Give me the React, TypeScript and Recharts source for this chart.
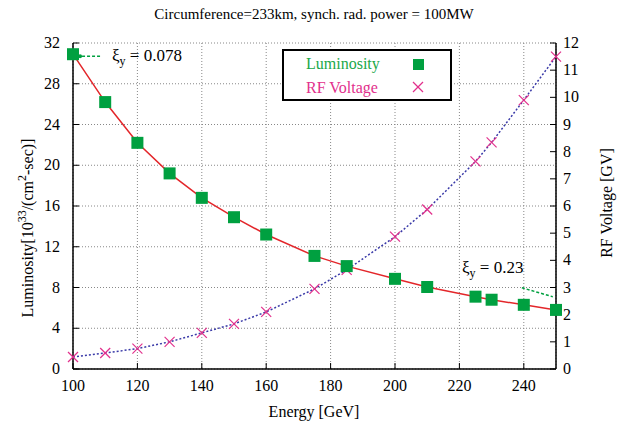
import {
  ComposedChart,
  Line,
  XAxis,
  YAxis,
  CartesianGrid,
  ReferenceLine,
  ReferenceDot,
  Legend,
} from 'recharts'

const energy = [100, 110, 120, 130, 140, 150, 160, 175, 185, 200, 210, 225, 230, 240, 250]
const luminosity = [30.9, 26.2, 22.2, 19.2, 16.8, 14.9, 13.2, 11.1, 10.1, 8.85, 8.05, 7.1, 6.8, 6.3, 5.8]
const rfVoltage = [0.44, 0.59, 0.75, 1.0, 1.33, 1.66, 2.1, 2.95, 3.65, 4.87, 5.87, 7.64, 8.34, 9.9, 11.5]

const energyTicks = [100, 120, 140, 160, 180, 200, 220, 240]
const lumTicks = [0, 4, 8, 12, 16, 20, 24, 28, 32]
const rfTicks = [0, 1, 2, 3, 4, 5, 6, 7, 8, 9, 10, 11, 12]

const data = energy.map((e, i) => ({ energy: e, lum: luminosity[i], rf: rfVoltage[i] }))

const GREEN = '#00a040'
const RED = '#e3262a'
const PINK = '#e2308c'
const BLUE = '#3a3aa8'
const FONT = '"Liberation Serif", serif'

// the page keeps its 8px body margin, so the chart is 620x416
const W = 620
const H = 416

function Tick(props: any) {
  const { x, y, payload, textAnchor, dy } = props
  return (
    <text x={x} y={y} dy={dy} textAnchor={textAnchor} fontSize={16} fontFamily={FONT} fill="#000">
      {payload.value}
    </text>
  )
}

function Square(props: any) {
  const { cx, cy } = props
  if (cx == null || cy == null) return null
  return <rect x={cx - 6} y={cy - 6} width={12} height={12} fill={GREEN} />
}

function Cross(props: any) {
  const { cx, cy } = props
  if (cx == null || cy == null) return null
  return (
    <g stroke={PINK} strokeWidth={1.2}>
      <line x1={cx - 5} y1={cy - 5} x2={cx + 5} y2={cy + 5} />
      <line x1={cx - 5} y1={cy + 5} x2={cx + 5} y2={cy - 5} />
    </g>
  )
}

function XiLabel({ value, viewBox }: any) {
  if (!viewBox) return null
  return (
    <text x={viewBox.x} y={viewBox.y} fontSize={17} fontFamily={FONT} fill="#000">
      <tspan>ξ</tspan>
      <tspan dy={4} fontSize={12}>y</tspan>
      <tspan dy={-4}>{` = ${value}`}</tspan>
    </text>
  )
}

function LegendBox() {
  return (
    <div
      style={{
        width: 166,
        height: 48,
        border: '2px solid #000',
        background: '#fff',
        fontFamily: FONT,
        fontSize: 16,
        position: 'relative',
      }}
    >
      <div style={{ position: 'absolute', left: 22, top: 4, color: '#20a848' }}>Luminosity</div>
      <div style={{ position: 'absolute', left: 129, top: 8, width: 11, height: 11, background: GREEN }} />
      <div style={{ position: 'absolute', left: 22, top: 28, color: PINK }}>RF Voltage</div>
      <svg style={{ position: 'absolute', left: 128, top: 30 }} width={12} height={12}>
        <line x1={1} y1={1} x2={11} y2={11} stroke={PINK} strokeWidth={1.2} />
        <line x1={1} y1={11} x2={11} y2={1} stroke={PINK} strokeWidth={1.2} />
      </svg>
    </div>
  )
}

export default function App() {
  return (
    <div style={{ position: 'relative', width: W, height: H, background: '#fff', fontFamily: FONT }}>
      <div
        style={{
          position: 'absolute',
          top: -2,
          left: -8,
          width: 628,
          textAlign: 'center',
          fontFamily: FONT,
          fontSize: 15,
        }}
      >
        Circumference=233km, synch. rad. power = 100MW
      </div>
      <ComposedChart width={W} height={H} data={data} margin={{ top: 35, right: 0, bottom: 0, left: 0 }}>
        <CartesianGrid yAxisId="lum" stroke="#888" strokeDasharray="1 2" />
        <XAxis
          dataKey="energy"
          type="number"
          domain={[100, 250]}
          ticks={energyTicks}
          height={55}
          axisLine={{ stroke: '#000', strokeWidth: 1.5 }}
          tickLine={{ stroke: '#000' }}
          tickSize={-6}
          tickMargin={16}
          tick={<Tick dy={12} />}
          label={() => (
            <text x={306} y={409} textAnchor="middle" fontSize={16} fontFamily={FONT}>
              Energy [GeV]
            </text>
          )}
        />
        <XAxis
          xAxisId="top"
          orientation="top"
          dataKey="energy"
          type="number"
          domain={[100, 250]}
          ticks={energyTicks}
          height={0}
          axisLine={{ stroke: '#000', strokeWidth: 1.5 }}
          tickLine={{ stroke: '#000' }}
          tickSize={-6}
          tickFormatter={() => ''}
        />
        <YAxis
          yAxisId="lum"
          domain={[0, 32]}
          ticks={lumTicks}
          width={65}
          axisLine={{ stroke: '#000', strokeWidth: 1.5 }}
          tickLine={{ stroke: '#000' }}
          tickSize={-6}
          tickMargin={19}
          tick={<Tick dy={5} />}
          label={() => (
            <text
              transform="rotate(-90, 25, 220)"
              x={25}
              y={220}
              textAnchor="middle"
              fontSize={16}
              fontFamily={FONT}
            >
              <tspan>Luminosity[10</tspan>
              <tspan dy={-7} fontSize={12}>33</tspan>
              <tspan dy={7}>/(cm</tspan>
              <tspan dy={-7} fontSize={12}>2</tspan>
              <tspan dy={7}>-sec)]</tspan>
            </text>
          )}
        />
        <YAxis
          yAxisId="rf"
          orientation="right"
          domain={[0, 12]}
          ticks={rfTicks}
          width={72}
          axisLine={{ stroke: '#000', strokeWidth: 1.5 }}
          tickLine={{ stroke: '#000' }}
          tickSize={-6}
          tickMargin={13}
          tick={<Tick dy={5} />}
          label={() => (
            <text
              transform="rotate(-90, 604, 195)"
              x={604}
              y={195}
              textAnchor="middle"
              fontSize={16}
              fontFamily={FONT}
            >
              RF Voltage [GV]
            </text>
          )}
        />
        <Legend
          layout="horizontal"
          verticalAlign="middle"
          align="center"
          content={() => <LegendBox />}
          wrapperStyle={{ position: 'absolute', top: 41, left: 274, width: 170 }}
        />
        <Line
          yAxisId="rf"
          dataKey="rf"
          stroke={BLUE}
          strokeWidth={1.5}
          strokeDasharray="2 2"
          dot={<Cross />}
          isAnimationActive={false}
        />
        <Line
          yAxisId="lum"
          dataKey="lum"
          stroke={RED}
          strokeWidth={1.5}
          dot={<Square />}
          isAnimationActive={false}
        />
        <ReferenceLine
          yAxisId="lum"
          segment={[{ x: 108.4, y: 30.7 }, { x: 102.2, y: 30.7 }]}
          stroke={GREEN}
          strokeWidth={1.5}
          strokeDasharray="3 2"
        />
        <ReferenceDot yAxisId="lum" x={102.2} y={30.7} r={2} fill={GREEN} stroke="none" />
        <ReferenceLine
          yAxisId="lum"
          segment={[{ x: 239.4, y: 7.98 }, { x: 249.0, y: 7.09 }]}
          stroke={GREEN}
          strokeWidth={1.5}
          strokeDasharray="3 2"
        />
        <ReferenceDot
          yAxisId="lum"
          x={112.1}
          y={30.2}
          r={0}
          fill="none"
          stroke="none"
          label={<XiLabel value="0.078" />}
        />
        <ReferenceDot
          yAxisId="lum"
          x={220.8}
          y={9.45}
          r={0}
          fill="none"
          stroke="none"
          label={<XiLabel value="0.23" />}
        />
      </ComposedChart>
    </div>
  )
}
